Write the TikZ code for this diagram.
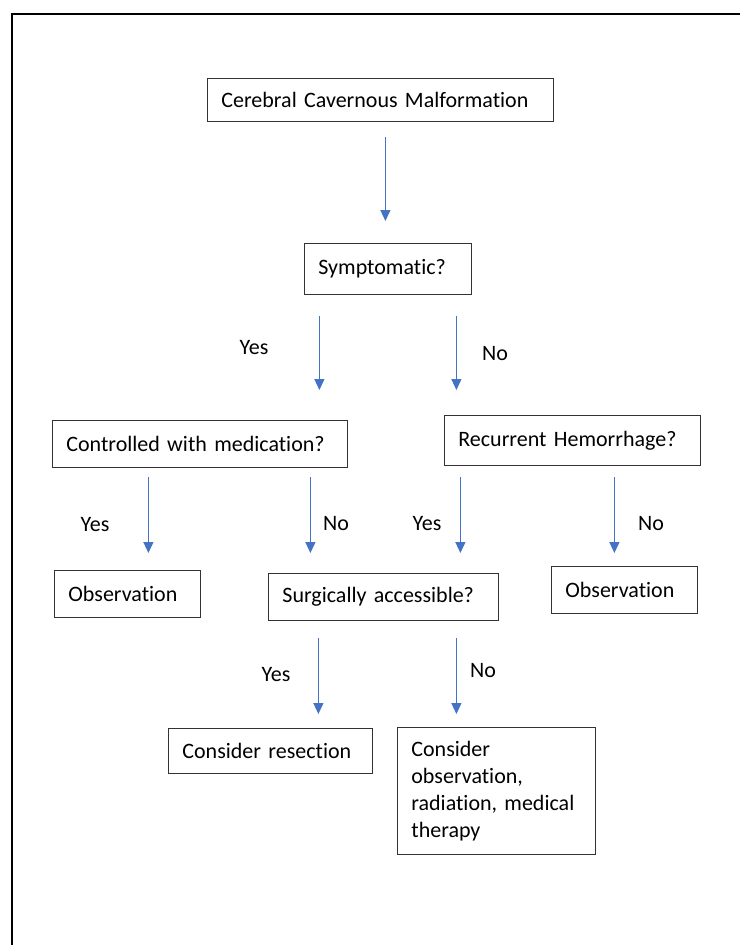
\documentclass[tikz,border=0pt]{standalone}
\usepackage{fontspec}
\setmainfont{Carlito}[Ligatures=NoCommon]
\usetikzlibrary{arrows.meta}
\definecolor{flowblue}{HTML}{4472C4}
\begin{document}
\begin{tikzpicture}[x=1pt,y=-1pt,
    box/.style={draw=black!80,line width=0.8pt,rectangle,anchor=north west,align=left,
      inner xsep=14pt,inner ysep=0pt,font=\fontsize{22}{27}\selectfont},
    lbl/.style={font=\fontsize{22}{27}\selectfont},
    arr/.style={draw=flowblue,line width=1.2pt,-{Triangle[width=10pt,length=11pt]}}]
  \useasboundingbox (0,0) rectangle (740,945);
  \draw[line width=2pt] (12,945) -- (12,14) -- (740,14);
  \draw
    (207,78) node[box,text width=318pt,minimum height=43pt] (ccm){Cerebral Cavernous Malformation}
    (304,243) node[box,text width=139pt,minimum height=51pt] (sym){Symptomatic?}
    (52,420) node[box,text width=267pt,minimum height=47pt] (ctl){Controlled with medication?}
    (444,415) node[box,text width=228pt,minimum height=50pt] (rec){Recurrent Hemorrhage?}
    (54,570) node[box,text width=118pt,minimum height=47pt] (obsl){Observation}
    (268,573) node[box,text width=202pt,minimum height=47pt] (surg){Surgically accessible?}
    (551,566) node[box,text width=118pt,minimum height=47pt] (obsr){Observation}
    (168,728) node[box,text width=176pt,minimum height=45pt] (res){Consider resection}
    (397,727) node[box,text width=170pt,minimum height=127pt] (cons){Consider\\observation,\\radiation, medical\\therapy};
  \draw
    (254,348) node[lbl] (y1){Yes}
    (495,354) node[lbl] (n1){No}
    (95,525) node[lbl] (y2){Yes}
    (336,524) node[lbl] (n2){No}
    (427,524) node[lbl] (y3){Yes}
    (651,524) node[lbl] (n3){No}
    (276,675) node[lbl] (y4){Yes}
    (483,671) node[lbl] (n4){No};
  \begin{scope}[arr]
    \draw[shorten <=15pt,shorten >=22pt] ([xshift=5pt]ccm.south) -- ([xshift=5pt]ccm.south |- sym.north);
    \draw[shorten <=21pt,shorten >=30pt] ([xshift=-68.5pt]sym.south) -- ([xshift=-68.5pt]sym.south |- ctl.north);
    \draw[shorten <=21pt,shorten >=25pt] ([xshift=68.5pt]sym.south) -- ([xshift=68.5pt]sym.south |- rec.north);
    \draw[shorten <=9pt,shorten >=17pt] ([xshift=-51.5pt]ctl.south) -- ([xshift=-51.5pt]ctl.south |- obsl.north);
    \draw[shorten <=9pt,shorten >=20pt] ([xshift=110.5pt]ctl.south) -- ([xshift=110.5pt]ctl.south |- surg.north);
    \draw[shorten <=11pt,shorten >=20pt] ([xshift=-112pt]rec.south) -- ([xshift=-112pt]rec.south |- surg.north);
    \draw[shorten <=11pt,shorten >=13pt] ([xshift=42pt]rec.south) -- ([xshift=42pt]rec.south |- obsr.north);
    \draw[shorten <=17pt,shorten >=14pt] ([xshift=-65pt]surg.south) -- ([xshift=-65pt]surg.south |- res.north);
    \draw[shorten <=17pt,shorten >=13pt] ([xshift=73pt]surg.south) -- ([xshift=73pt]surg.south |- cons.north);
  \end{scope}
\end{tikzpicture}
\end{document}
